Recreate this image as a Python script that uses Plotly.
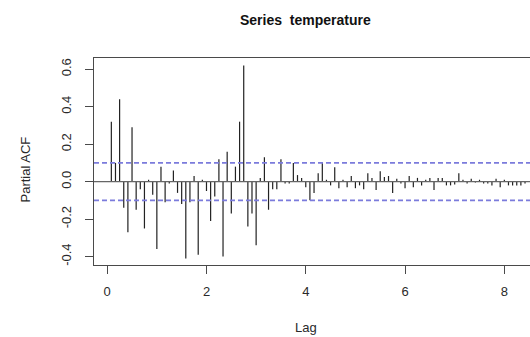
import plotly.graph_objects as go

# PACF values for lags k/12, k = 1..101
pacf_values = [
    0.32, 0.10, 0.44, -0.14, -0.27, 0.29, -0.15, -0.04, -0.25, 0.01,
    -0.07, -0.36, 0.08, -0.11, -0.01, 0.06, -0.06, -0.12, -0.41, -0.11,
    0.03, -0.39, 0.01, -0.05, -0.21, -0.08, 0.12, -0.40, 0.16, -0.17,
    0.08, 0.32, 0.62, -0.24, -0.17, -0.34, 0.02, 0.13, -0.15, -0.04,
    -0.04, 0.12, -0.01, -0.01, 0.10, 0.035, 0.02, -0.03, -0.10, -0.06,
    0.045, 0.10, 0.01, -0.02, 0.077, -0.035, 0.01, -0.03, 0.03, -0.035,
    -0.02, -0.04, 0.045, 0.02, -0.045, 0.055, 0.025, 0.03, -0.06, 0.015,
    -0.01, -0.035, 0.03, -0.03, 0.02, -0.02, 0.01, 0.02, -0.045, 0.02,
    0.02, -0.02, -0.02, -0.015, 0.045, 0.01, -0.01, 0.015, -0.005, 0.01,
    -0.01, -0.01, -0.02, 0.015, -0.03, 0.01, -0.02, -0.02, -0.02, -0.02,
    -0.01,
]
frequency = 12
lags = [(k + 1) / frequency for k in range(len(pacf_values))]
ci_level = 0.1
x_ticks = [0, 2, 4, 6, 8]
y_ticks = [-0.4, -0.2, 0.0, 0.2, 0.4, 0.6]
y_tick_labels = ["-0.4", "-0.2", "0.0", "0.2", "0.4", "0.6"]

xs, ys = [], []
for lag, v in zip(lags, pacf_values):
    xs += [lag, lag, None]
    ys += [0, v, None]

FONT = "Liberation Sans, Arial, sans-serif"
TXT = "#2a2a2a"
AX = "#4a4a4a"

fig = go.Figure()
fig.add_trace(go.Scatter(x=xs, y=ys, mode="lines",
                         line=dict(color="#222222", width=1.2),
                         hoverinfo="skip", showlegend=False))

xr = [-0.266, 8.517]
fig.add_shape(type="line", xref="paper", yref="y", x0=0, x1=1, y0=0, y1=0,
              line=dict(color="#666666", width=1.4))
for c in (ci_level, -ci_level):
    fig.add_shape(type="line", xref="paper", yref="y", x0=0, x1=1, y0=c, y1=c,
                  line=dict(color="#7b7bdc", width=1.6, dash="5px,3px"))

fig.update_layout(
    width=530, height=337,
    margin=dict(l=93.5, r=0, t=58, b=72),
    paper_bgcolor="white", plot_bgcolor="white",
    font=dict(family=FONT, size=13, color=TXT),
    showlegend=False,
    xaxis=dict(range=xr, tickvals=x_ticks, ticktext=[str(t) for t in x_ticks],
               ticks="outside", ticklen=8, tickcolor=AX, tickwidth=1,
               showline=True, linecolor=AX, linewidth=1, mirror=True,
               showgrid=False, zeroline=False, ticklabelstandoff=6,
               tickfont=dict(size=13, color=TXT)),
    yaxis=dict(range=[-0.445, 0.66], tickvals=y_ticks, ticktext=y_tick_labels,
               ticks="outside", ticklen=8, tickcolor=AX, tickwidth=1,
               showline=True, linecolor=AX, linewidth=1, mirror=False,
               showgrid=False, zeroline=False, tickangle=-90,
               ticklabelstandoff=9,
               tickfont=dict(size=13, color=TXT)),
    annotations=[
        dict(text="<b>Series  temperature</b>", xref="paper", yref="paper",
             x=(305 - 93.5) / (530 - 93.5), y=1, yshift=38, showarrow=False,
             xanchor="center", yanchor="middle",
             font=dict(size=14, color="#111", family=FONT)),
        dict(text="Lag", xref="paper", yref="paper",
             x=(306 - 93.5) / (530 - 93.5), y=0, yshift=-62, showarrow=False,
             xanchor="center", yanchor="middle", font=dict(size=13, color=TXT)),
        dict(text="Partial ACF", xref="paper", yref="paper",
             x=0, xshift=-69, y=0.5, yshift=-8, showarrow=False, textangle=-90,
             xanchor="center", yanchor="middle", font=dict(size=13, color=TXT)),
    ],
)

fig.write_html("out.html")
